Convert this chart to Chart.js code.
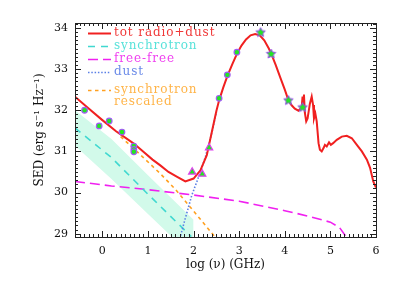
<!DOCTYPE html>
<html lang="en">
<head>
<meta charset="UTF-8">
<title>SED</title>
<script src="https://cdn.jsdelivr.net/npm/chart.js@4.4.1/dist/chart.umd.min.js"></script>
<style>
  body { margin: 0; background: #fff; }
</style>
</head>
<body>
<canvas id="sed" width="399" height="285"></canvas>
<script>
// --- values (log nu in GHz, log SED) ---
const totX = [-0.6, -0.3, 0.0, 0.3, 0.69, 0.9, 1.1, 1.27, 1.45, 1.64, 1.82, 2.0, 2.15, 2.29, 2.4, 2.5, 2.56, 2.65, 2.74, 2.85, 2.95,
  3.05, 3.15, 3.25, 3.35, 3.45, 3.55, 3.65, 3.7, 3.8, 3.9, 4.0, 4.08, 4.15, 4.22, 4.3, 4.37, 4.39, 4.405, 4.42, 4.44, 4.47, 4.5,
  4.55, 4.59, 4.62, 4.64, 4.67, 4.7, 4.74, 4.77, 4.81, 4.85, 4.88, 4.92, 4.97, 5.01, 5.06, 5.14, 5.25, 5.36, 5.47, 5.58, 5.69,
  5.8, 5.87, 5.94, 6.0];
const totY = [32.33, 32.04, 31.76, 31.49, 31.19, 30.99, 30.8, 30.66, 30.5, 30.38, 30.27, 30.34, 30.54, 30.91, 31.47, 31.98, 32.24, 32.55, 32.83, 33.12, 33.37,
  33.57, 33.72, 33.82, 33.85, 33.82, 33.7, 33.5, 33.38, 33.1, 32.8, 32.5, 32.24, 32.12, 32.04, 31.99, 32.07, 32.33, 32.1, 32.38, 31.94, 31.73, 31.8,
  32.16, 32.33, 32.13, 31.8, 31.92, 31.73, 31.2, 31.04, 31.0, 31.08, 31.16, 31.12, 31.22, 31.16, 31.2, 31.28, 31.36, 31.38, 31.32, 31.16, 31.0,
  30.8, 30.6, 30.27, 30.12];

const syncX = [-0.6, 0.2, 1.0, 1.95];
const syncY = [31.57, 30.85, 29.96, 28.93];

const bandX = [-0.6, 0.2, 1.0, 2.0];
const bandHigh = [32.0, 31.3, 30.42, 29.34];
const bandLow = [31.14, 30.33, 29.48, 28.42];

const ffX = [-0.6, 0.2, 1.0, 2.0, 3.0, 4.0, 4.5, 5.0, 5.2, 5.33];
const ffY = [30.27, 30.16, 30.07, 29.94, 29.79, 29.56, 29.43, 29.28, 29.15, 28.95];

const dustX = [1.68, 1.8, 1.96, 2.15, 2.26, 2.4, 2.5];
const dustY = [28.8, 29.3, 29.93, 30.5, 30.87, 31.45, 31.96];

const rescX = [0.4, 0.9, 1.27, 1.6, 2.0, 2.5];
const rescY = [31.36, 30.85, 30.46, 30.08, 29.55, 28.88];

const circX = [-0.39, -0.07, 0.15, 0.43, 0.69, 0.69, 0.69, 2.56, 2.74, 2.95];
const circY = [32.0, 31.62, 31.74, 31.47, 31.13, 31.05, 30.99, 32.29, 32.86, 33.41];
const triX = [1.97, 2.19, 2.34];
const triY = [30.5, 30.45, 31.09];
const starX = [3.47, 3.7, 4.08, 4.39];
const starY = [33.9, 33.38, 32.25, 32.08];

const xTicks = [0, 1, 2, 3, 4, 5, 6];
const yTicks = [29, 30, 31, 32, 33, 34];
const legendNames = ['tot radio+dust', 'synchrotron', 'free-free', 'dust', 'synchrotron rescaled'];

const pts = (xs, ys) => xs.map((x, i) => ({x: x, y: ys[i]}));

// little five point star for the marker
function starImage(r) {
  const s = Math.ceil(2 * r + 3);
  const c = document.createElement('canvas');
  c.width = c.height = s;
  const g = c.getContext('2d');
  g.beginPath();
  for (let i = 0; i < 10; i++) {
    const a = -Math.PI / 2 + i * Math.PI / 5;
    const rr = i % 2 ? r * 0.48 : r;
    g.lineTo(s / 2 + rr * Math.cos(a), s / 2 + rr * Math.sin(a) + 0.5);
  }
  g.closePath();
  g.fillStyle = '#22e622';
  g.fill();
  g.lineWidth = 1;
  g.strokeStyle = '#9a4cf0';
  g.stroke();
  return c;
}

const line = (label, xs, ys, color, dash, width, order) => ({
  label: label, data: pts(xs, ys), showLine: true, pointRadius: 0,
  borderColor: color, borderDash: dash, borderWidth: width, fill: false, order: order
});

// inward ticks on all four sides plus the frame
const boxTicks = {
  id: 'boxTicks',
  afterDraw(chart) {
    const {ctx, chartArea: a} = chart;
    const xs = chart.scales.x, ys = chart.scales.y;
    ctx.save();
    ctx.strokeStyle = '#222';
    ctx.lineWidth = 1;
    ctx.beginPath();
    for (let v = Math.ceil(xs.min * 10); v <= Math.floor(xs.max * 10 + 1e-6); v++) {
      const p = Math.round(xs.getPixelForValue(v / 10)) + 0.5;
      const len = v % 10 === 0 ? 6 : 3;
      ctx.moveTo(p, a.bottom); ctx.lineTo(p, a.bottom - len);
      ctx.moveTo(p, a.top); ctx.lineTo(p, a.top + len);
    }
    for (let v = Math.ceil(ys.min * 10); v <= Math.floor(ys.max * 10 + 1e-6); v++) {
      const p = Math.round(ys.getPixelForValue(v / 10)) + 0.5;
      const len = v % 10 === 0 ? 6 : 3;
      ctx.moveTo(a.left, p); ctx.lineTo(a.left + len, p);
      ctx.moveTo(a.right, p); ctx.lineTo(a.right - len, p);
    }
    ctx.stroke();
    ctx.strokeRect(Math.round(a.left) + 0.5, Math.round(a.top) + 0.5, Math.round(a.right - a.left), Math.round(a.bottom - a.top));
    ctx.restore();
  }
};

// legend inside the plot, text in the line colour
const innerLegend = {
  id: 'innerLegend',
  afterDraw(chart) {
    const {ctx, chartArea: a} = chart;
    let y = a.top + 10;
    ctx.save();
    ctx.font = '12px "DejaVu Serif", serif';
    ctx.letterSpacing = '0.9px';
    ctx.textBaseline = 'middle';
    legendNames.forEach((name) => {
      const ds = chart.data.datasets.find(d => d.label === name);
      const rows = name === 'synchrotron rescaled' ? ['synchrotron', 'rescaled'] : [name];
      if (rows.length > 1) y += 4.5;
      ctx.beginPath();
      ctx.setLineDash(ds.borderDash || []);
      ctx.strokeStyle = ds.borderColor;
      ctx.lineWidth = ds.borderWidth;
      ctx.moveTo(a.left + 13, Math.round(y) + 0.5);
      ctx.lineTo(a.left + 36, Math.round(y) + 0.5);
      ctx.stroke();
      ctx.setLineDash([]);
      ctx.fillStyle = ds.textColor;
      rows.forEach((r, k) => ctx.fillText(r, a.left + 39, y + k * 12.5));
      y += 13 + (rows.length - 1) * 12.5;
    });
    ctx.restore();
  }
};

const datasets = [
  {label: 'circles', data: pts(circX, circY), pointStyle: 'circle', pointRadius: 2.8, borderWidth: 1.2,
    borderColor: '#a05cf4', backgroundColor: '#22e622', order: 0},
  {label: 'triangles', data: pts(triX, triY), pointStyle: 'triangle', pointRadius: 4.2, borderWidth: 1.2,
    borderColor: '#e040f0', backgroundColor: '#22e622', order: 0},
  {label: 'stars', data: pts(starX, starY), pointStyle: starImage(5), pointRadius: 5, order: 0},
  Object.assign(line('tot radio+dust', totX, totY, '#f02020', [], 2, 1), {textColor: '#f03838'}),
  Object.assign(line('dust', dustX, dustY, '#5a7fe6', [1.5, 1.8], 1.6, 2), {textColor: '#6a8ae8'}),
  Object.assign(line('synchrotron rescaled', rescX, rescY, '#ffa020', [3.5, 3.5], 1.6, 2), {textColor: '#ffb448'}),
  Object.assign(line('synchrotron', syncX, syncY, '#40d8d0', [7, 6], 1.6, 3), {textColor: '#58e2da'}),
  Object.assign(line('free-free', ffX, ffY, '#f020f0', [10, 5], 1.6, 3), {textColor: '#f040f0'}),
  {label: 'band high', data: pts(bandX, bandHigh), showLine: true, pointRadius: 0, borderWidth: 0,
    backgroundColor: '#d2faea', fill: '+1', order: 9},
  {label: 'band low', data: pts(bandX, bandLow), showLine: true, pointRadius: 0, borderWidth: 0, fill: false, order: 9}
];

const serif = '"DejaVu Serif", serif';

new Chart(document.getElementById('sed'), {
  type: 'scatter',
  data: {datasets: datasets},
  plugins: [boxTicks, innerLegend],
  options: {
    responsive: false,
    animation: false,
    devicePixelRatio: 1,
    layout: {padding: {top: 23, right: 23, left: 0, bottom: 0}},
    plugins: {
      legend: {display: false},
      tooltip: {enabled: false},
      filler: {drawTime: 'beforeDatasetsDraw'}
    },
    scales: {
      x: {
        type: 'linear', min: -0.6, max: 6,
        afterBuildTicks: s => { s.ticks = xTicks.map(v => ({value: v})); },
        afterFit: s => { s.height = 48; },
        grid: {display: false, drawTicks: false},
        border: {display: false},
        ticks: {color: '#111', font: {family: serif, size: 11}, padding: 8, maxRotation: 0},
        title: {display: true, text: 'log (\u03bd) (GHz)', color: '#111', font: {family: serif, size: 12},
          padding: {top: 0, bottom: 13}}
      },
      y: {
        type: 'linear', min: 28.92, max: 34.12,
        afterBuildTicks: s => { s.ticks = yTicks.map(v => ({value: v})); },
        afterFit: s => { s.width = 75; },
        grid: {display: false, drawTicks: false},
        border: {display: false},
        ticks: {color: '#111', font: {family: serif, size: 11}, padding: 7},
        title: {display: true, text: 'SED (erg s\u207b\u00b9 Hz\u207b\u00b9)', color: '#111', font: {family: serif, size: 12},
          padding: {top: 33, bottom: 0}}
      }
    }
  }
});
</script>
</body>
</html>
